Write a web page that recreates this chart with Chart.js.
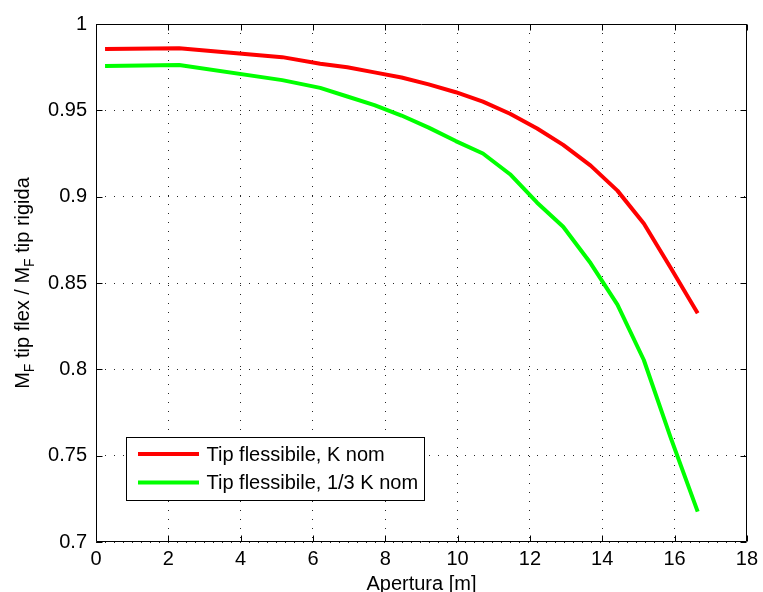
<!DOCTYPE html>
<html>
<head>
<meta charset="utf-8">
<script src="https://cdn.jsdelivr.net/npm/chart.js@4.4.0/dist/chart.umd.min.js"></script>
<style>
  html, body { margin: 0; padding: 0; background: #fff; }
</style>
</head>
<body>
<canvas id="chart" width="763" height="592"></canvas>
<script>
// stazioni lungo l'apertura [m]
const apertura = [0.25, 2.3, 5.15, 6.2, 6.95, 7.7, 8.45, 9.2, 9.95, 10.7, 11.45, 12.2, 12.92, 13.68, 14.42, 15.15, 15.9, 16.64];
// M_F tip flessibile / M_F tip rigida
const kNom   = [0.9855, 0.986, 0.9808, 0.977, 0.975, 0.972, 0.969, 0.965, 0.9605, 0.955, 0.948, 0.9395, 0.930, 0.918, 0.9035, 0.8845, 0.8585, 0.8325];
const kTerzo = [0.9757, 0.9763, 0.9675, 0.963, 0.958, 0.953, 0.947, 0.940, 0.9322, 0.925, 0.913, 0.8965, 0.8826, 0.8614, 0.8375, 0.8054, 0.760, 0.7176];

const seriesLabels = ['Tip flessibile, K nom', 'Tip flessibile, 1/3 K nom'];
const xTicks = [0, 2, 4, 6, 8, 10, 12, 14, 16, 18];
const yTicks = [0.7, 0.75, 0.8, 0.85, 0.9, 0.95, 1];
const xTitle = 'Apertura [m]';
// [testo, pedice]
const yTitle = [['M', false], ['F', true], [' tip flex / M', false], ['F', true], [' tip rigida', false]];

const FONT = "'Liberation Sans', Arial, Helvetica, sans-serif";

const toPoints = ys => apertura.map((x, i) => ({ x: x, y: ys[i] }));

// riquadro stile MATLAB: cornice, tacche interne, legenda, titoli
const matlabBox = {
    id: 'matlabBox',
    afterDatasetsDraw(chart) {
        const { ctx, chartArea: a, scales: { x, y } } = chart;
        const L = Math.round(a.left) + 0.5, R = Math.round(a.right) - 0.5;
        const T = Math.round(a.top) + 0.5, B = Math.round(a.bottom) - 0.5;
        ctx.save();
        ctx.strokeStyle = '#000';
        ctx.lineWidth = 1;
        ctx.setLineDash([]);
        ctx.beginPath();
        ctx.rect(L, T, R - L, B - T);
        xTicks.forEach(v => {
            const px = Math.round(x.getPixelForValue(v)) + 0.5;
            ctx.moveTo(px, B); ctx.lineTo(px, B - 6);
            ctx.moveTo(px, T); ctx.lineTo(px, T + 6);
        });
        yTicks.forEach(v => {
            const py = Math.round(y.getPixelForValue(v)) + 0.5;
            ctx.moveTo(L, py); ctx.lineTo(L + 6, py);
            ctx.moveTo(R, py); ctx.lineTo(R - 6, py);
        });
        ctx.stroke();

        // legenda
        const lx = Math.round(a.left) + 30.5, ly = Math.round(a.bottom) - 104.5;
        const lw = 298, lh = 63;
        ctx.fillStyle = '#fff';
        ctx.fillRect(lx, ly, lw, lh);
        ctx.strokeRect(lx, ly, lw, lh);
        ctx.font = '20px ' + FONT;
        ctx.textBaseline = 'middle';
        ctx.textAlign = 'left';
        chart.data.datasets.forEach((ds, i) => {
            const yy = ly + 16.5 + i * 28.5;
            ctx.strokeStyle = ds.borderColor;
            ctx.lineWidth = 4;
            ctx.beginPath();
            ctx.moveTo(lx + 11.5, yy);
            ctx.lineTo(lx + 72.5, yy);
            ctx.stroke();
            ctx.fillStyle = '#000';
            ctx.fillText(ds.label, lx + 80, yy + 1);
        });
        ctx.restore();
    },
    afterDraw(chart) {
        const { ctx, chartArea: a } = chart;
        ctx.save();
        ctx.fillStyle = '#000';
        // titolo asse x
        ctx.font = '20px ' + FONT;
        ctx.textAlign = 'center';
        ctx.textBaseline = 'alphabetic';
        ctx.fillText(xTitle, (a.left + a.right) / 2, 590);

        // titolo asse y con pedici
        const big = '20px ' + FONT, small = '14px ' + FONT;
        let total = 0;
        yTitle.forEach(([t, sub]) => { ctx.font = sub ? small : big; total += ctx.measureText(t).width; });
        ctx.translate(29, (a.top + a.bottom) / 2);
        ctx.rotate(-Math.PI / 2);
        ctx.textAlign = 'left';
        let cx = -total / 2;
        yTitle.forEach(([t, sub]) => {
            ctx.font = sub ? small : big;
            ctx.fillText(t, cx, sub ? 5 : 0);
            cx += ctx.measureText(t).width;
        });
        ctx.restore();
    }
};

new Chart(document.getElementById('chart'), {
    type: 'line',
    data: {
        datasets: [
            { label: seriesLabels[0], data: toPoints(kNom), borderColor: '#ff0000' },
            { label: seriesLabels[1], data: toPoints(kTerzo), borderColor: '#00ff00' }
        ]
    },
    options: {
        responsive: false,
        animation: false,
        devicePixelRatio: 1,
        layout: { padding: { left: 0, right: 10, top: 24, bottom: 0 } },
        elements: {
            line: { borderWidth: 4, tension: 0, fill: false, borderJoinStyle: 'round' },
            point: { radius: 0 }
        },
        plugins: {
            legend: { display: false },
            tooltip: { enabled: false }
        },
        scales: {
            x: {
                type: 'linear',
                min: 0, max: 18,
                afterBuildTicks: s => { s.ticks = xTicks.map(v => ({ value: v })); },
                afterFit: s => { s.height = 50; },
                grid: { color: 'rgba(0,0,0,0.85)', lineWidth: 1, drawTicks: false },
                border: { display: false, dash: [1, 8] },
                ticks: { color: '#000', font: { family: FONT, size: 20 }, padding: 5, maxRotation: 0 }
            },
            y: {
                min: 0.7, max: 1,
                afterBuildTicks: s => { s.ticks = yTicks.map(v => ({ value: v })); },
                afterFit: s => { s.width = 96; },
                grid: { color: 'rgba(0,0,0,0.85)', lineWidth: 1, drawTicks: false },
                border: { display: false, dash: [1, 8] },
                ticks: {
                    color: '#000', font: { family: FONT, size: 20 }, padding: 9,
                    callback: v => String(+v.toFixed(2))
                }
            }
        }
    },
    plugins: [matlabBox]
});
</script>
</body>
</html>
